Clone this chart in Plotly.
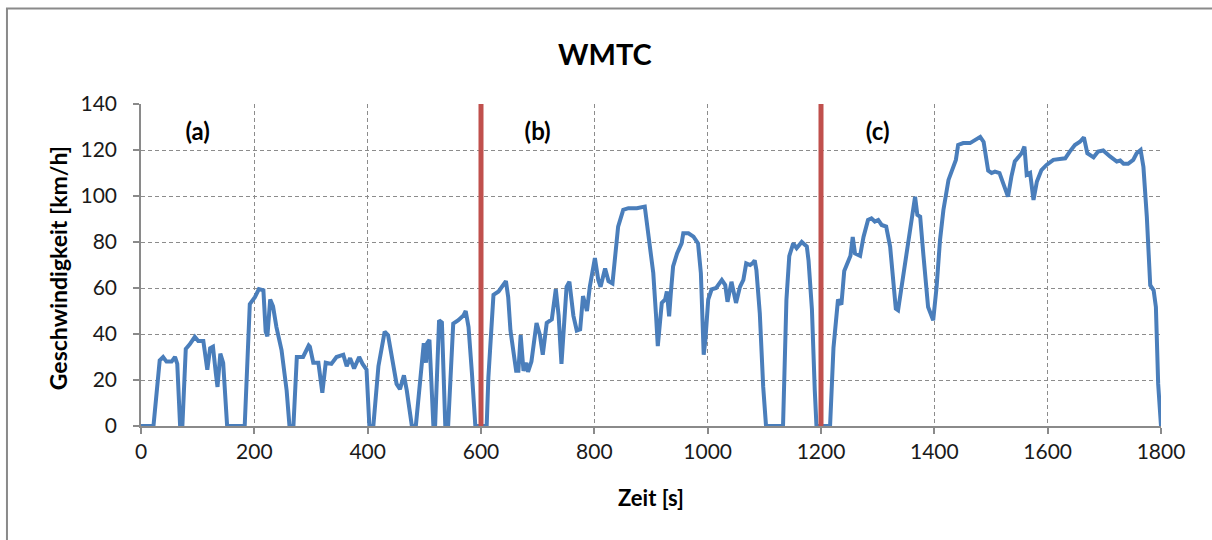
import plotly.graph_objects as go

# ---- data ----
zeit = [0, 22, 33, 39, 45, 54, 60, 64, 69, 73, 79, 86, 95, 101, 110, 114, 117, 122, 127, 132,
        135, 140, 145, 152, 183, 192, 201, 208, 216, 220, 223, 228, 233, 239, 248, 257, 262, 269,
        275, 286, 296, 298, 304, 313, 320, 326, 336, 345, 357, 363, 369, 376, 385, 391, 398, 403,
        410, 419, 430, 436, 451, 457, 464, 469, 478, 485, 492, 499, 503, 505, 509, 516, 519, 526,
        531, 537, 542, 551, 560, 569, 573, 578, 584, 590, 610, 613, 622, 631, 644, 648, 652, 662,
        666, 670, 675, 680, 683, 689, 698, 704, 709, 716, 725, 732, 737, 742, 751, 756, 763, 769,
        775, 780, 787, 792, 801, 807, 811, 819, 825, 832, 842, 851, 860, 875, 889, 895, 904, 909,
        912, 919, 925, 928, 932, 935, 939, 946, 954, 957, 966, 975, 983, 988, 991, 993, 996, 1001,
        1007, 1015, 1025, 1031, 1035, 1042, 1050, 1057, 1063, 1068, 1075, 1079, 1083, 1086, 1092,
        1098, 1103, 1133, 1139, 1144, 1151, 1157, 1166, 1175, 1178, 1184, 1189, 1192, 1216, 1222,
        1230, 1236, 1241, 1248, 1252, 1256, 1260, 1269, 1275, 1283, 1289, 1295, 1301, 1307, 1315,
        1322, 1328, 1332, 1336, 1342, 1351, 1360, 1366, 1370, 1375, 1381, 1389, 1398, 1404, 1410,
        1416, 1425, 1433, 1438, 1442, 1451, 1463, 1472, 1481, 1487, 1495, 1501, 1507, 1515, 1522,
        1530, 1536, 1542, 1554, 1559, 1563, 1569, 1575, 1581, 1589, 1598, 1610, 1631, 1639, 1648,
        1657, 1664, 1670, 1681, 1689, 1698, 1710, 1722, 1728, 1734, 1742, 1751, 1757, 1764, 1769,
        1775, 1781, 1787, 1791, 1795, 1800]
geschwindigkeit = [0, 0, 28.5, 30, 28, 28, 30, 27, 0, 0, 33.5, 35.5, 38.8, 37, 37, 31, 24.5, 33.8,
                   34.5, 23, 17, 31.5, 27.5, 0, 0, 53, 56, 59.5, 59, 41, 39, 55, 52, 43, 33, 15.5, 0,
                   0, 30, 30, 35, 34.5, 27.5, 27.5, 14.5, 27.5, 27, 30, 31, 26, 29.5, 25, 30, 27, 24.5,
                   0, 0, 26, 41, 39.5, 18.3, 16, 22, 15.5, 0, 0, 18.3, 36, 27.5, 36, 37.5, 0, 0, 46,
                   45, 0, 0, 44.5, 46, 48, 50, 43, 23, 0, 0, 21, 57, 58.5, 63, 56, 41.5, 24, 24, 39.5,
                   24, 27.5, 23.5, 28, 44.8, 39.5, 31, 44.8, 46.4, 59.5, 48, 27, 60.5, 62.7, 48, 41.5,
                   42, 56.5, 50, 60.5, 73, 63.5, 60.5, 68.5, 63, 62, 86.7, 94, 94.7, 94.7, 95.4, 84.5,
                   66.5, 47.7, 34.7, 53.5, 55, 58.5, 47.7, 57.8, 69.4, 75, 79.4, 83.8, 83.8, 82.3,
                   79.4, 66.5, 47.7, 31, 37.5, 55, 59.4, 60, 63.5, 61.3, 54, 62.7, 53.5, 60.5, 63.5,
                   70.7, 70, 70.7, 72, 67.8, 49, 17, 0, 0, 55, 73.9, 79.4, 77.3, 80, 78, 72, 50.7,
                   15.6, 0, 0, 34, 55, 52.8, 67.4, 72, 74, 82.2, 75, 74, 82.2, 89.6, 90.3, 88.9, 89.6,
                   87.4, 86.7, 78, 60.5, 51, 50.3, 60.5, 75, 92.5, 99.7, 91.8, 91, 73.5, 51.7, 46,
                   60.5, 80.8, 93.9, 107, 112, 115.7, 122.2, 123, 123, 124.3, 125.7, 123.5, 111, 110,
                   110.6, 110, 105, 99.7, 108.4, 115, 118.6, 121.5, 109.2, 110, 98.3, 106.3, 111.3,
                   113.5, 115.7, 116.4, 119.3, 122.2, 123.6, 125.5, 118.6, 116.8, 119.3, 119.8,
                   117.2, 115, 115.4, 114, 114, 115.7, 118.6, 120, 112.6, 90.9, 61.2, 59, 51.7, 18.3, 0]

phase_grenzen = [600, 1200]
phase_labels = ["(a)", "(b)", "(c)"]
phase_label_x = [100, 700, 1300]
phase_label_y = 127

x_ticks = list(range(0, 1801, 200))
y_ticks = list(range(0, 141, 20))

FONT = "Lato"
GRID = "#8c8c8c"
AX = "#8a8a8a"

fig = go.Figure()
fig.add_trace(go.Scatter(x=zeit, y=geschwindigkeit, mode="lines",
                         line=dict(color="#4A7EBB", width=4), showlegend=False,
                         hoverinfo="x+y"))
for g in phase_grenzen:
    fig.add_trace(go.Scatter(x=[g, g], y=[0, 140], mode="lines",
                             line=dict(color="#C0504D", width=5), showlegend=False,
                             hoverinfo="skip"))

fig.add_trace(go.Scatter(x=phase_label_x, y=[phase_label_y] * 3, mode="text",
                         text=[f"<b>{t}</b>" for t in phase_labels],
                         textfont=dict(family=FONT, size=24, color="#000000"),
                         showlegend=False, hoverinfo="skip"))

axis_common = dict(showgrid=True, gridcolor=GRID, griddash="4px,3px", gridwidth=1,
                   showline=True, linecolor=AX, linewidth=1.5, ticks="outside",
                   ticklen=6, tickcolor=AX, tickwidth=1.5, zeroline=False,
                   tickfont=dict(family=FONT, size=21, color="#1a1a1a"))

fig.update_xaxes(range=[0, 1800], tickvals=x_ticks, **axis_common)
fig.update_yaxes(range=[0, 140], tickvals=y_ticks, ticklabelstandoff=12, **axis_common)

fig.update_layout(
    width=1212, height=540,
    margin=dict(l=141, r=51, t=104, b=114),
    paper_bgcolor="white", plot_bgcolor="white",
    font=dict(family=FONT),
    annotations=[
        dict(text="<b>WMTC</b>", x=0.455, y=1.158, xref="paper", yref="paper",
             showarrow=False, font=dict(family=FONT, size=29, color="#000000"),
             xanchor="center", yanchor="middle"),
        dict(text="<b>Geschwindigkeit [km/h]</b>", x=-0.0814, y=0.49, xref="paper",
             yref="paper", showarrow=False, textangle=-90,
             font=dict(family=FONT, size=23, color="#000000"),
             xanchor="center", yanchor="middle"),
        dict(text="<b>Zeit [s]</b>", x=0.5, y=-0.222, xref="paper", yref="paper",
             showarrow=False, font=dict(family=FONT, size=22, color="#000000"),
             xanchor="center", yanchor="middle"),
    ],
    shapes=[
        dict(type="rect", xref="paper", yref="paper", x0=-0.1314, x1=1.1, y0=-0.5,
             y1=1.2966, line=dict(color="#8a8a8a", width=2), fillcolor="rgba(0,0,0,0)",
             layer="below"),
    ],
)

fig.write_html("out.html")
